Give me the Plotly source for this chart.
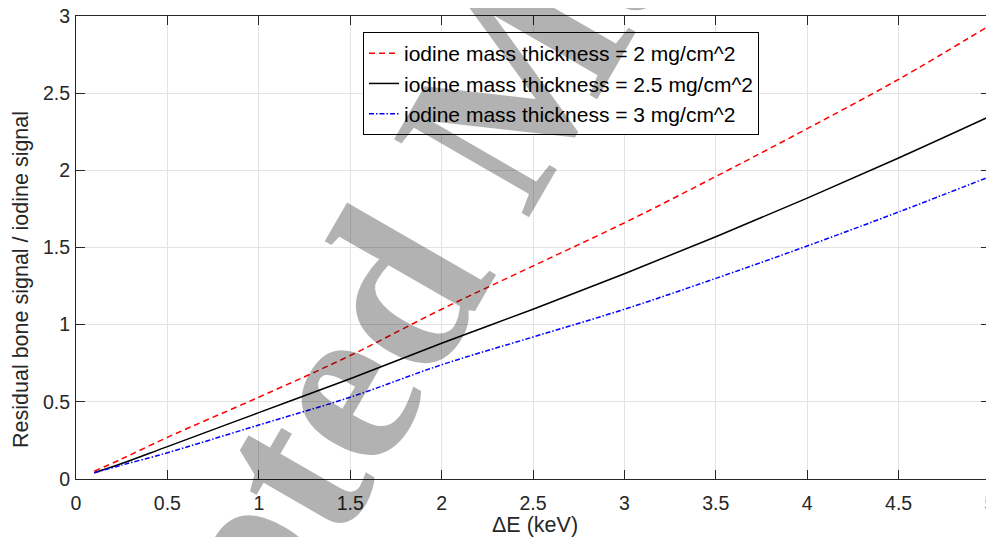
import plotly.graph_objects as go

# Data
delta_e = [0.1, 0.25, 0.5, 1.0, 1.5, 2.0, 2.5, 3.0, 3.5, 4.0, 4.5, 5.0]
ratio_2mg = [0.05, 0.13, 0.27, 0.53, 0.80, 1.10, 1.38, 1.66, 1.96, 2.27, 2.59, 2.94]
ratio_25mg = [0.04, 0.10, 0.21, 0.43, 0.65, 0.88, 1.10, 1.33, 1.57, 1.82, 2.08, 2.35]
ratio_3mg = [0.04, 0.09, 0.17, 0.35, 0.53, 0.74, 0.92, 1.10, 1.30, 1.51, 1.73, 1.96]

series_names = [
    "iodine mass thickness = 2 mg/cm^2",
    "iodine mass thickness = 2.5 mg/cm^2",
    "iodine mass thickness = 3 mg/cm^2",
]
x_ticks = [0, 0.5, 1, 1.5, 2, 2.5, 3, 3.5, 4, 4.5, 5]
x_tick_text = ["0", "0.5", "1", "1.5", "2", "2.5", "3", "3.5", "4", "4.5", "5"]
y_ticks = [0, 0.5, 1, 1.5, 2, 2.5, 3]
y_tick_text = ["0", "0.5", "1", "1.5", "2", "2.5", "3"]

FONT = "Liberation Sans, Arial, sans-serif"
AXC = "#262626"

# page offset of the plot div (default body margin)
OFF = 8
W, H = 994, 537
L, R, T, B = 76 - OFF, W - (990 - OFF), 16 - OFF, H - (479 - OFF)
PW, PH = W - L - R, H - T - B


def px_x(p):
    return (p - OFF - L) / PW


def px_y(p):
    return (H - B - (p - OFF)) / PH


fig = go.Figure()
fig.add_trace(go.Scatter(x=delta_e, y=ratio_2mg, mode="lines", name=series_names[0],
                         line=dict(color="#ff0000", width=1.5, dash="6px,4px", shape="spline", smoothing=1.0)))
fig.add_trace(go.Scatter(x=delta_e, y=ratio_25mg, mode="lines", name=series_names[1],
                         line=dict(color="#000000", width=1.5, shape="spline", smoothing=1.0)))
fig.add_trace(go.Scatter(x=delta_e, y=ratio_3mg, mode="lines", name=series_names[2],
                         line=dict(color="#0000ff", width=1.5, dash="5px,2px,1.5px,2px", shape="spline", smoothing=1.0)))

axis_common = dict(
    showgrid=True, gridcolor="#e3e3e3", gridwidth=1,
    showline=True, linecolor=AXC, linewidth=1.2, mirror="ticks",
    ticks="inside", ticklen=9, tickwidth=1.2, tickcolor=AXC,
    tickfont=dict(family=FONT, size=19.5, color=AXC),
    zeroline=False, automargin=False, ticklabeloverflow="allow",
)

fig.update_layout(
    width=W, height=H,
    margin=dict(l=L, r=R, t=T, b=B, autoexpand=False),
    paper_bgcolor="white", plot_bgcolor="white",
    xaxis=dict(range=[0, 5], tickvals=x_ticks, ticktext=x_tick_text, ticklabelstandoff=6, **axis_common),
    yaxis=dict(range=[0, 3], tickvals=y_ticks, ticktext=y_tick_text, ticklabelstandoff=1, **axis_common),
    showlegend=True,
    legend=dict(
        x=px_x(363), y=px_y(32), xanchor="left", yanchor="top",
        bgcolor="white", bordercolor="#000000", borderwidth=1,
        font=dict(family=FONT, size=21, color="#000000"),
        tracegroupgap=0, itemwidth=30,
    ),
    annotations=[
        dict(text="ΔE (keV)", xref="paper", yref="paper", x=px_x(535), y=px_y(525),
             xanchor="center", yanchor="middle", showarrow=False,
             font=dict(family=FONT, size=21.5, color=AXC)),
        dict(text="Residual bone signal / iodine signal", xref="paper", yref="paper",
             x=px_x(21), y=px_y(280), textangle=-90,
             xanchor="center", yanchor="middle", showarrow=False,
             font=dict(family=FONT, size=21.5, color=AXC)),
        dict(text="<b>Accepted Manuscript</b>", xref="paper", yref="paper",
             x=px_x(505), y=px_y(97), textangle=-60,
             xanchor="center", yanchor="middle", showarrow=False,
             font=dict(family="Liberation Serif, Times New Roman, serif", size=238,
                       color="rgba(0,0,0,0.3)")),
    ],
)

fig.write_html("out.html")
